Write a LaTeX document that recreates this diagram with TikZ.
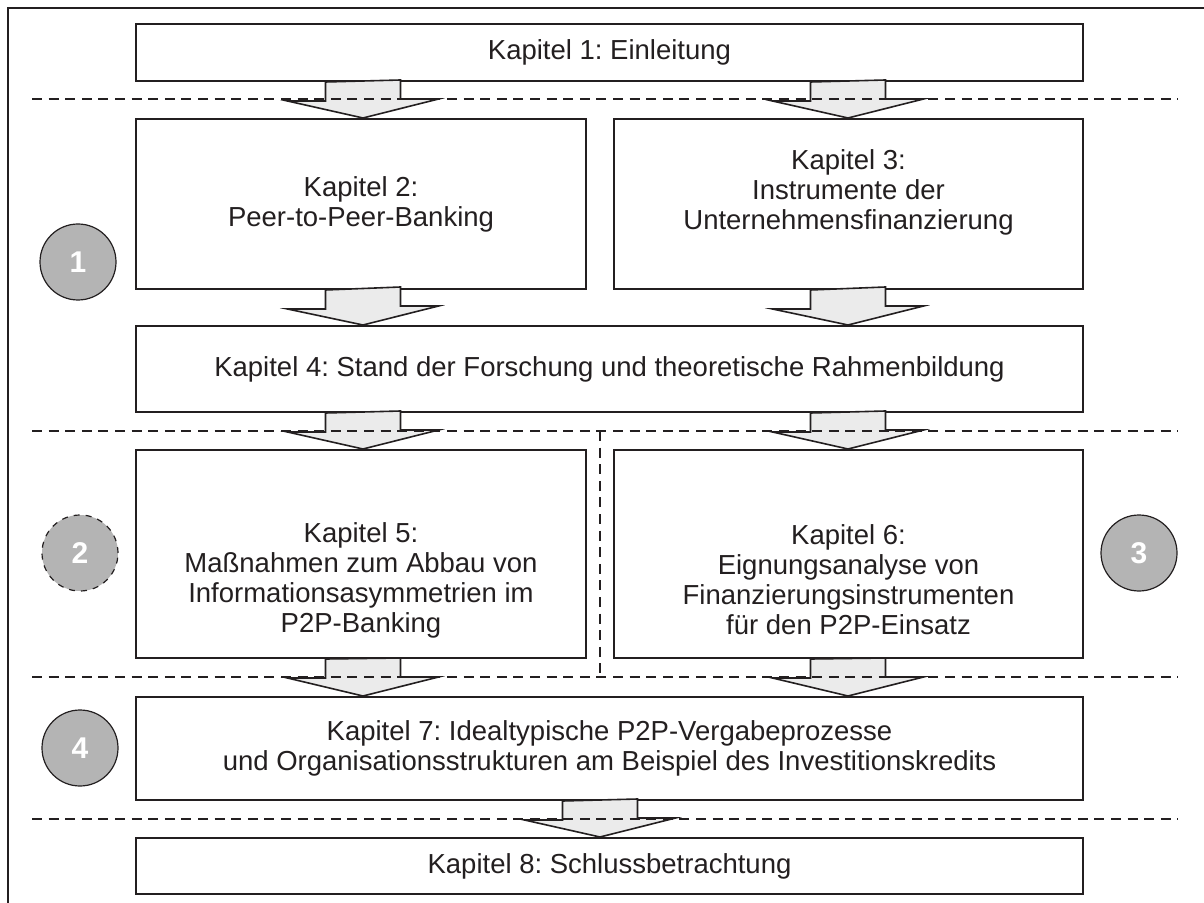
\documentclass[tikz,border=0pt]{standalone}
\usepackage{fontspec}
\setmainfont{Liberation Sans}
\frenchspacing
\usepackage{tikz}
\usetikzlibrary{positioning}
\definecolor{linie}{RGB}{35,31,32}
\definecolor{pfeilgrau}{RGB}{235,235,235}
\definecolor{kreisgrau}{RGB}{180,180,180}

\tikzset{
  kapbox/.style={draw=linie,line width=1pt,fill=white,align=center,text=linie,
    font=\fontsize{13.75}{15}\selectfont,inner sep=0pt},
  kaptext/.style={align=center,text=linie,font=\fontsize{13.75}{15}\selectfont,inner sep=0pt},
  kreis/.style={circle,draw=linie,line width=0.6pt,fill=kreisgrau,minimum size=38pt,
    inner sep=0pt,text=white,font=\fontsize{15}{17}\selectfont\bfseries},
  feil/.style={draw=linie,line width=0.8pt,fill=pfeilgrau,line join=miter},
  trenn/.style={draw=linie,line width=0.7pt,dash pattern=on 5pt off 3.3pt}
}

% block arrow from box #1 to box #2, centred on x of #3
\newcommand{\kapfeil}[3]{
  \draw[feil] (#1.south -| #3) ++(-37.5,0) -- ++(0,19) -- ++(-38,0)
    -- (#2.north -| #3) -- ++(75.5,-19) -- ++(-38,0) -- ++(0,-19) -- cycle;
}

\begin{document}
\begin{tikzpicture}[x=0.5pt,y=-0.5pt]

  \useasboundingbox (0,0) rectangle (1204,903);
  \draw[draw=linie,line width=1pt] (8,903) -- (8,8) -- (1204,8);

  \coordinate (links) at (363,0);
  \coordinate (rechts) at (848,0);
  \coordinate (mitte) at (600,0);

  % Kapitel
  \node[kapbox,minimum width=473.5pt,minimum height=28.5pt] (k1) at (609.5,52.5) {Kapitel 1: Einleitung};
  \node[kapbox,minimum width=225pt,minimum height=85pt] (k2) at (361,204) {Kapitel 2:\\Peer-to-Peer-Banking};
  \node[kapbox,minimum width=234.5pt,minimum height=85pt] (k3) at (848.5,204) {};
  \node[kaptext] (t3) at ([yshift=6pt]k3.center) {Kapitel 3:\\Instrumente der\\Unternehmensfinanzierung};
  \node[kapbox,minimum width=473.5pt,minimum height=43pt] (k4) at (609.5,369) {Kapitel 4: Stand der Forschung und theoretische Rahmenbildung};
  \node[kapbox,minimum width=225pt,minimum height=104pt] (k5) at (361,554) {};
  \node[kaptext] (t5) at ([yshift=-13pt]k5.center) {Kapitel 5:\\Maßnahmen zum Abbau von\\Informationsasymmetrien im\\P2P-Banking};
  \node[kapbox,minimum width=234.5pt,minimum height=104pt] (k6) at (848.5,554) {};
  \node[kaptext] (t6) at ([yshift=-13pt]k6.center) {Kapitel 6:\\Eignungsanalyse von\\Finanzierungsinstrumenten\\für den P2P-Einsatz};
  \node[kapbox,minimum width=473.5pt,minimum height=51.5pt] (k7) at (609.5,748.5) {Kapitel 7: Idealtypische P2P-Vergabeprozesse\\und Organisationsstrukturen am Beispiel des Investitionskredits};
  \node[kapbox,minimum width=473.5pt,minimum height=28pt] (k8) at (609.5,866) {Kapitel 8: Schlussbetrachtung};

  % Pfeile
  \kapfeil{k1}{k2}{links}
  \kapfeil{k1}{k3}{rechts}
  \kapfeil{k2}{k4}{links}
  \kapfeil{k3}{k4}{rechts}
  \kapfeil{k4}{k5}{links}
  \kapfeil{k4}{k6}{rechts}
  \kapfeil{k5}{k7}{links}
  \kapfeil{k6}{k7}{rechts}
  \kapfeil{k7}{k8}{mitte}

  % Trennlinien
  \draw[trenn] (32,99) -- (1178,99);
  \draw[trenn] (32,431) -- (1178,431);
  \draw[trenn] (32,677) -- (1178,677);
  \draw[trenn] (32,819) -- (1178,819);
  \draw[trenn] (600,431) -- (600,677);

  % Teile
  \node[kreis] (c1) at (78,262) {1};
  \node[kreis,dashed] (c2) at (80,553) {2};
  \node[kreis] (c3) at (1139,553) {3};
  \node[kreis] (c4) at (80,748) {4};

\end{tikzpicture}
\end{document}
